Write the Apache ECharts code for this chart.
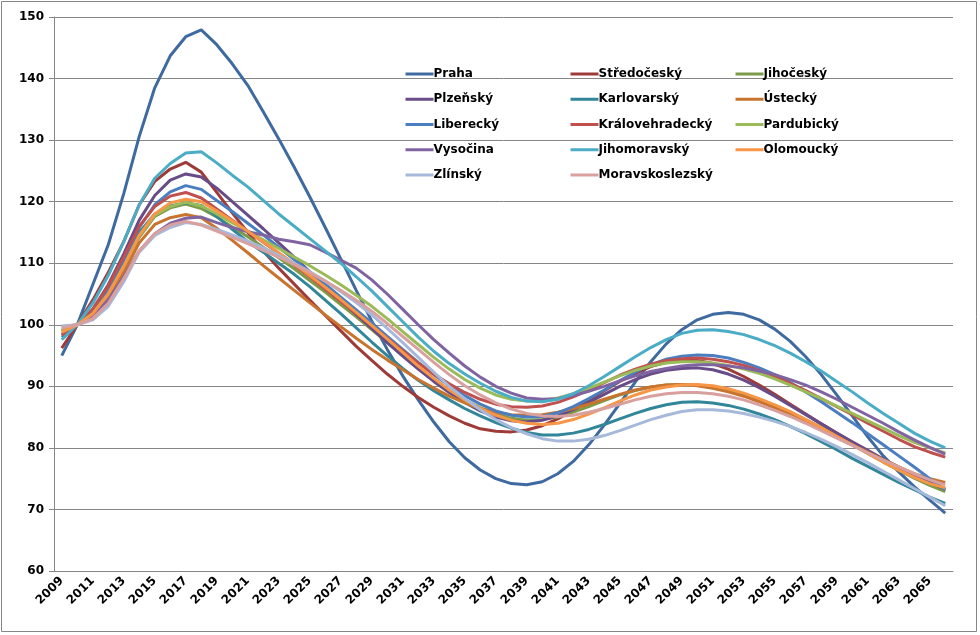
<!DOCTYPE html>
<html>
<head>
<meta charset="utf-8">
<script src="https://cdn.jsdelivr.net/npm/echarts@6/dist/echarts.min.js"></script>
<style>
html,body{margin:0;padding:0;background:#fff;}
#chart{width:980px;height:635px;}
</style>
</head>
<body>
<div id="chart"></div>
<script>
const years = [];
for (let y = 2009; y <= 2066; y++) years.push(String(y));

const seriesNames = ['Praha','Středočeský','Jihočeský','Plzeňský','Karlovarský','Ústecký','Liberecký','Královehradecký','Pardubický','Vysočina','Jihomoravský','Olomoucký','Zlínský','Moravskoslezský'];

const praha = [95.0,100,106.5,113,121.3,130.6,138.5,143.7,146.8,147.9,
  145.5,142.4,138.9,134.6,130.2,125.6,120.8,115.8,110.7,105.6,
  100.6,96.0,91.7,87.8,84.2,81.0,78.4,76.4,75.0,74.2,
  74.0,74.5,75.8,77.8,80.5,83.7,87.2,90.7,94.0,96.9,
  99.2,100.8,101.7,102.0,101.7,100.8,99.3,97.3,94.8,91.9,
  88.6,85.2,81.8,78.7,76.1,73.7,71.5,69.4];
const stredocesky = [96.2,100,104,108.5,113.5,119.5,123.3,125.3,126.4,124.8,
  121.5,118.2,115.0,112.0,109.2,106.6,104.0,101.5,99.0,96.5,
  94.2,92.0,90.0,88.2,86.6,85.2,84.0,83.1,82.7,82.6,
  82.9,83.6,84.7,86.1,87.7,89.3,90.8,92.1,93.2,93.9,
  94.3,94.2,93.7,92.8,91.6,90.2,88.7,87.1,85.5,83.9,
  82.4,80.9,79.5,78.1,76.8,75.5,74.3,73.2];
const jihocesky = [99.3,100,101.8,104.8,109.2,114.2,117.6,119.0,119.6,118.9,
  117.5,115.9,114.3,112.6,110.9,109.1,107.2,105.3,103.3,101.3,
  99.2,97.1,95.0,93.0,91.1,89.3,87.8,86.5,85.5,84.8,
  84.5,84.6,85.0,85.8,86.7,87.7,88.6,89.3,89.9,90.2,
  90.3,90.2,89.9,89.4,88.7,87.9,86.9,85.8,84.6,83.3,
  81.9,80.5,79.1,77.7,76.4,75.1,73.9,72.9];
const plzensky = [99.0,100,102.5,106.5,111.5,117.0,121.0,123.5,124.5,124.0,
  122.2,120.0,117.8,115.6,113.3,111.0,108.6,106.3,104.0,101.7,
  99.4,97.1,94.9,92.8,90.8,89.0,87.4,86.0,85.0,84.4,
  84.2,84.5,85.2,86.2,87.4,88.7,90.0,91.1,92.0,92.6,
  92.9,93.0,92.7,92.0,91.0,89.8,88.4,86.9,85.4,83.9,
  82.4,81.0,79.6,78.2,76.9,75.6,74.4,73.3];
const karlovarsky = [98.0,100,102.0,105.3,110.0,115.0,118.0,119.3,119.8,119.4,
  117.6,115.5,113.5,111.8,110.0,108.2,106.2,104.0,101.8,99.5,
  97.2,95.0,92.9,91.0,89.3,87.8,86.4,85.2,84.1,83.2,
  82.5,82.1,82.1,82.4,83.0,83.8,84.7,85.6,86.4,87.0,
  87.4,87.5,87.3,86.9,86.3,85.5,84.6,83.5,82.3,81.0,
  79.7,78.3,77.0,75.7,74.4,73.2,72.0,71.0];
const ustecky = [99.0,100,101.5,104.3,108.5,113.3,116.3,117.4,117.9,117.4,
  115.7,113.7,111.7,109.6,107.6,105.6,103.6,101.6,99.7,97.8,
  96.0,94.3,92.7,91.1,89.7,88.4,87.3,86.4,85.8,85.4,
  85.3,85.4,85.8,86.4,87.1,87.9,88.7,89.4,89.9,90.2,
  90.3,90.1,89.7,89.1,88.4,87.5,86.5,85.4,84.2,83.0,
  81.8,80.5,79.3,78.1,76.9,75.8,75.0,74.4];
const liberecky = [98.5,100,102.3,105.8,110.5,115.8,119.5,121.6,122.6,122.0,
  120.2,118.4,116.5,114.6,112.6,110.6,108.6,106.6,104.5,102.4,
  100.3,98.1,96.0,93.9,91.9,90.1,88.5,87.1,86.0,85.3,
  85.0,85.1,85.7,86.7,88.0,89.4,90.9,92.3,93.5,94.4,
  94.9,95.1,95.0,94.6,93.9,93.0,91.9,90.6,89.1,87.5,
  85.8,84.1,82.3,80.5,78.7,76.9,75.0,73.2];
const kralovehradecky = [98.3,100,102.5,106.3,111.0,116.0,119.2,120.9,121.5,120.6,
  118.8,117.0,115.2,113.4,111.6,109.7,107.8,105.8,103.8,101.8,
  99.8,97.8,95.8,93.8,92.0,90.4,89.0,87.9,87.1,86.7,
  86.6,86.8,87.4,88.3,89.4,90.6,91.8,92.8,93.6,94.2,
  94.5,94.6,94.4,94.0,93.4,92.6,91.6,90.5,89.3,88.0,
  86.7,85.4,84.0,82.7,81.4,80.2,79.3,78.5];
const pardubicky = [99.0,100,101.8,105.0,109.5,114.5,117.8,119.2,119.9,119.3,
  118.0,116.6,115.2,113.8,112.4,111.0,109.6,108.1,106.5,104.8,
  103.0,101.0,98.9,96.8,94.7,92.8,91.1,89.7,88.6,87.9,
  87.6,87.7,88.1,88.8,89.7,90.7,91.7,92.6,93.3,93.8,
  94.0,94.0,93.8,93.4,92.8,92.1,91.2,90.2,89.1,88.0,
  86.8,85.6,84.4,83.2,82.0,80.9,80.0,79.2];
const vysocina = [99.7,100,101.5,104.0,107.8,112.0,114.8,116.5,117.3,117.5,
  116.6,115.8,115.1,114.6,113.9,113.5,113.0,111.8,110.5,109.2,
  107.3,105.0,102.5,100.0,97.6,95.4,93.3,91.5,90.0,88.9,
  88.1,87.9,88.0,88.5,89.2,90.0,90.9,91.7,92.4,92.9,
  93.3,93.5,93.5,93.3,93.0,92.5,91.9,91.1,90.2,89.1,
  87.9,86.6,85.3,84.0,82.6,81.3,80.1,79.0];
const jihomoravsky = [97.6,100,103.5,108.0,113.5,119.5,123.8,126.2,127.9,128.1,
  126.3,124.3,122.4,120.2,118.0,116.0,114.0,112.0,110.0,107.8,
  105.5,103.0,100.5,98.0,95.7,93.7,92.0,90.5,89.2,88.2,
  87.6,87.5,87.9,88.8,90.1,91.6,93.2,94.8,96.3,97.6,
  98.6,99.1,99.2,98.9,98.4,97.6,96.6,95.4,94.0,92.5,
  90.8,89.1,87.3,85.6,84.0,82.4,81.1,80.0];
const olomoucky = [98.8,100,101.8,105.0,109.5,114.5,118.0,119.8,120.4,120.0,
  118.5,116.9,115.2,113.5,111.7,109.9,108.0,106.1,104.1,102.0,
  99.9,97.7,95.5,93.3,91.3,89.4,87.8,86.4,85.3,84.5,
  84.0,83.8,84.0,84.6,85.5,86.5,87.6,88.6,89.4,89.9,
  90.2,90.3,90.1,89.6,88.9,88.0,87.0,85.9,84.6,83.3,
  81.9,80.5,79.1,77.7,76.4,75.2,74.2,73.5];
const zlinsky = [99.8,100,100.8,103.0,107.0,111.8,114.5,115.8,116.6,116.3,
  115.5,114.6,113.6,112.5,111.3,110.0,108.6,107.1,105.4,103.6,
  101.6,99.4,97.1,94.7,92.3,90.0,88.0,86.2,84.6,83.3,
  82.3,81.5,81.1,81.1,81.4,82.0,82.8,83.7,84.6,85.3,
  85.9,86.2,86.2,86.0,85.6,85.0,84.3,83.5,82.5,81.4,
  80.2,78.9,77.6,76.2,74.8,73.4,72.0,70.6];
const moravskoslezsky = [99.5,100,101.0,103.5,107.5,112.0,114.8,116.2,116.8,116.2,
  115.2,114.2,113.2,112.1,111.0,109.8,108.5,107.1,105.6,104.0,
  102.2,100.2,98.1,96.0,93.9,91.9,90.1,88.6,87.3,86.3,
  85.6,85.2,85.1,85.3,85.8,86.4,87.1,87.8,88.4,88.8,
  89.0,89.0,88.8,88.4,87.8,87.0,86.1,85.1,84.0,82.8,
  81.6,80.4,79.2,78.0,76.9,75.8,74.8,74.0];

const seriesData = [praha, stredocesky, jihocesky, plzensky, karlovarsky, ustecky, liberecky, kralovehradecky, pardubicky, vysocina, jihomoravsky, olomoucky, zlinsky, moravskoslezsky];
const colors = ['#3E6AA0','#9E3B38','#7D9B47','#674C88','#32869A','#C8732E','#4A7EC0','#C0504D','#9BBB59','#8064A2','#4BACC6','#F79646','#A6B9DA','#D9A0A0'];

const FONT = '"DejaVu Sans", Verdana, sans-serif';
const chart = echarts.init(document.getElementById('chart'), null, {renderer: 'canvas'});

function legendCol(left, names) {
  return {
    orient: 'vertical', left: left, top: 68, padding: 0,
    itemWidth: 28, itemHeight: 14, itemGap: 13.25,
    data: names,
    itemStyle: {opacity: 0},
    lineStyle: {width: 3},
    textStyle: {fontFamily: FONT, fontWeight: 'bold', fontSize: 12, color: '#000', padding: [0,0,0,-5]},
    selectedMode: false
  };
}

const option = {
  animation: false,
  color: colors,
  graphic: [{type: 'rect', shape: {x: 1.5, y: 1.5, width: 975, height: 630}, style: {fill: 'none', stroke: '#868686', lineWidth: 1}, silent: true}],
  legend: [
    legendCol(404, [seriesNames[0], seriesNames[3], seriesNames[6], seriesNames[9], seriesNames[12]]),
    legendCol(569, [seriesNames[1], seriesNames[4], seriesNames[7], seriesNames[10], seriesNames[13]]),
    legendCol(734, [seriesNames[2], seriesNames[5], seriesNames[8], seriesNames[11]])
  ],
  grid: {left: 54, right: 27, top: 17, bottom: 64, containLabel: false},
  xAxis: {
    type: 'category', data: years, boundaryGap: true,
    axisLine: {lineStyle: {color: '#868686', width: 1}},
    axisTick: {interval: 0, length: 5, lineStyle: {color: '#868686'}},
    axisLabel: {interval: 1, rotate: 45, margin: 8, fontFamily: FONT, fontWeight: 'bold', fontSize: 12, color: '#000'},
    splitLine: {show: false}
  },
  yAxis: {
    type: 'value', min: 60, max: 150, interval: 10,
    axisLine: {show: true, lineStyle: {color: '#868686', width: 1}},
    axisTick: {show: true, length: 5, lineStyle: {color: '#868686'}},
    axisLabel: {margin: 10, fontFamily: FONT, fontWeight: 'bold', fontSize: 12, color: '#000'},
    splitLine: {lineStyle: {color: '#868686', width: 1}}
  },
  series: seriesNames.map((n, i) => ({
    name: n, type: 'line', data: seriesData[i],
    symbol: 'none', smooth: false,
    lineStyle: {width: 3, color: colors[i]},
    itemStyle: {color: colors[i]}
  }))
};
chart.setOption(option);
</script>
</body>
</html>
